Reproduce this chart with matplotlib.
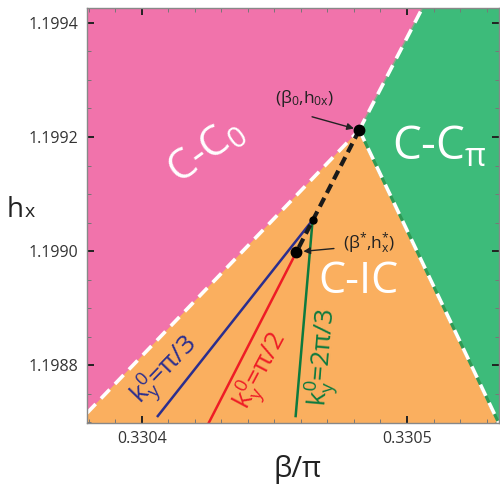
import matplotlib
matplotlib.use("Agg")
import matplotlib.pyplot as plt
from matplotlib.patches import Polygon
from matplotlib.ticker import MultipleLocator, FixedLocator

plt.rcParams['font.family'] = ['Open Sans', 'DejaVu Sans']
plt.rcParams['mathtext.fontset'] = 'custom'
plt.rcParams['mathtext.rm'] = 'Open Sans'
plt.rcParams['mathtext.it'] = 'Open Sans'
plt.rcParams['mathtext.bf'] = 'Open Sans:bold'
plt.rcParams['lines.scale_dashes'] = False

# axis range (beta/pi, h_x)
beta_lim = [0.3303793, 0.3305347]
h_lim = [1.1986983, 1.1994263]

# phase boundaries (beta/pi, h_x)
b_cc0_ic = [0.3303793, 0.3304820]
h_cc0_ic = [1.1987158, 1.1992123]
b_cc0_ccpi = [0.3304820, 0.3305058]
h_cc0_ccpi = [1.1992123, 1.1994263]
b_ccpi_ic = [0.3304820, 0.3305346]
h_ccpi_ic = [1.1992123, 1.1986983]

# special points
beta0, h0x = 0.3304820, 1.1992123
beta_star, hx_star = 0.3304583, 1.1989983
beta_end, h_end = 0.3304644, 1.1990544

# k_y^0 curves
b_pi3 = [0.3304644, 0.3304060]
h_pi3 = [1.1990544, 1.1987105]
b_pi2 = [0.3304583, 0.3304252]
h_pi2 = [1.1989983, 1.1986983]
b_2pi3 = [0.3304644, 0.3304580]
h_2pi3 = [1.1990544, 1.1987105]

xticks = [0.3304, 0.3305]
xticklabels = ['0.3304', '0.3305']
yticks = [1.1988, 1.1990, 1.1992, 1.1994]
yticklabels = ['1.1988', '1.1990', '1.1992', '1.1994']

pink = '#F173AB'
orange = '#FAAF5F'
green = '#3DBB7A'

fig = plt.figure(figsize=(5, 4.87), dpi=100)
ax = fig.add_axes([0.174, 0.1314, 0.824, 0.8522])
ax.set_facecolor(orange)

# pink region: above C-C0 / C-IC and C-C0 / C-Cpi boundaries
pink_pts = list(zip(b_cc0_ic, h_cc0_ic)) + list(zip(b_cc0_ccpi, h_cc0_ccpi))[1:] \
    + [(beta_lim[0], h_lim[1])]
ax.add_patch(Polygon(pink_pts, closed=True, facecolor=pink, edgecolor='none', zorder=1))

green_pts = list(zip(b_cc0_ccpi, h_cc0_ccpi)) + [(beta_lim[1], h_lim[1]), (beta_lim[1], h_lim[0])] \
    + list(zip(b_ccpi_ic, h_ccpi_ic))[::-1]
ax.add_patch(Polygon(green_pts, closed=True, facecolor=green, edgecolor='none', zorder=1))

# boundaries
ax.plot(b_ccpi_ic, h_ccpi_ic, color='#2E9A55', lw=2.2, zorder=2)
ax.plot(b_cc0_ccpi, h_cc0_ccpi, color='#8FA58A', lw=1.0, zorder=2)
for bb, hh in [(b_cc0_ic, h_cc0_ic), (b_cc0_ccpi, h_cc0_ccpi), (b_ccpi_ic, h_ccpi_ic)]:
    ax.plot(bb, hh, color='white', lw=2.6, dashes=(9, 5.5), zorder=3,
            solid_capstyle='butt', dash_capstyle='butt')

# k_y^0 lines
ax.plot(b_pi3, h_pi3, color='#2B2E8E', lw=1.8, zorder=4)
ax.plot(b_pi2, h_pi2, color='#EE1C25', lw=1.8, zorder=4)
ax.plot(b_2pi3, h_2pi3, color='#0D7A3E', lw=1.8, zorder=4)

# black dashed line
ax.plot([beta0, beta_star], [h0x, hx_star], color='#1a1a1a', lw=3.0,
        dashes=(7, 4), dash_capstyle='butt', zorder=5)
ax.plot([beta0], [h0x], 'o', color='black', ms=7.5, zorder=6)
ax.plot([beta_star], [hx_star], 'o', color='black', ms=7.5, zorder=6)
ax.plot([beta_end], [h_end], 'o', color='black', ms=5, zorder=6)

# phase labels
ax.text(0.288, 0.655, r'C-C$_\mathregular{0}$', transform=ax.transAxes, color='white',
        fontsize=30, rotation=36, ha='center', va='center', zorder=7)
ax.text(0.855, 0.665, r'C-C$_\mathregular{\pi}$', transform=ax.transAxes, color='white',
        fontsize=33, ha='center', va='center', zorder=7)
ax.text(0.659, 0.340, 'C-IC', transform=ax.transAxes, color='white',
        fontsize=31, ha='center', va='center', zorder=7)

ax.text(0.189, 0.125, r'k$_\mathregular{y}^\mathregular{0}$=π/3', transform=ax.transAxes,
        color='#2B2E8E', fontsize=19, rotation=46, ha='center', va='center', zorder=7)
ax.text(0.424, 0.125, r'k$_\mathregular{y}^\mathregular{0}$=π/2', transform=ax.transAxes,
        color='#EE1C25', fontsize=19, rotation=62, ha='center', va='center', zorder=7)
ax.text(0.576, 0.158, r'k$_\mathregular{y}^\mathregular{0}$=2π/3', transform=ax.transAxes,
        color='#0D7A3E', fontsize=19, rotation=85, ha='center', va='center', zorder=7)

# point labels with arrows
ax.text(0.528, 0.781, r'(β$_\mathregular{0}$,h$_\mathregular{0x}$)', transform=ax.transAxes,
        color='#222222', fontsize=12.5, ha='center', va='center', zorder=7)
ax.annotate('', xy=(beta0, h0x), xytext=(-34, 9.5), textcoords='offset points',
            arrowprops=dict(arrowstyle='-|>', color='#222222', lw=1.0, shrinkA=0, shrinkB=4,
                            mutation_scale=10), zorder=7)
ax.text(0.685, 0.433, r'(β$^\mathregular{*}$,h$_\mathregular{x}^\mathregular{*}$)', transform=ax.transAxes,
        color='#222222', fontsize=12.5, ha='center', va='center', zorder=7)
ax.annotate('', xy=(beta_star, hx_star), xytext=(27, 2.5), textcoords='offset points',
            arrowprops=dict(arrowstyle='-|>', color='#222222', lw=1.0, shrinkA=0, shrinkB=5,
                            mutation_scale=10), zorder=7)

ax.set_xlim(beta_lim)
ax.set_ylim(h_lim)
ax.xaxis.set_major_locator(FixedLocator(xticks))
ax.set_xticklabels(xticklabels)
ax.yaxis.set_major_locator(FixedLocator(yticks))
ax.set_yticklabels(yticklabels)
ax.xaxis.set_minor_locator(MultipleLocator(1e-5))
ax.yaxis.set_minor_locator(MultipleLocator(5e-5))
ax.tick_params(which='major', direction='in', length=5, width=1.4, color='#222222',
               top=True, right=True, labelsize=11.5, labelcolor='#333333', pad=6)
ax.tick_params(which='minor', direction='in', length=3, width=0.7, color='#777777',
               top=True, right=True)
for s in ax.spines.values():
    s.set_color('#888888')
    s.set_linewidth(1.0)
    s.set_zorder(8)

fig.text(297 / 500, 1 - 470 / 487, 'β/π', fontsize=21, color='#222222', ha='center', va='center')
fig.text(7 / 500, 1 - 217 / 487, 'h', fontsize=20, color='#222222', ha='left', va='baseline')
fig.text(25 / 500, 1 - 217 / 487, 'x', fontsize=14, color='#222222', ha='left', va='baseline')

fig.savefig('out.png', dpi=100)
